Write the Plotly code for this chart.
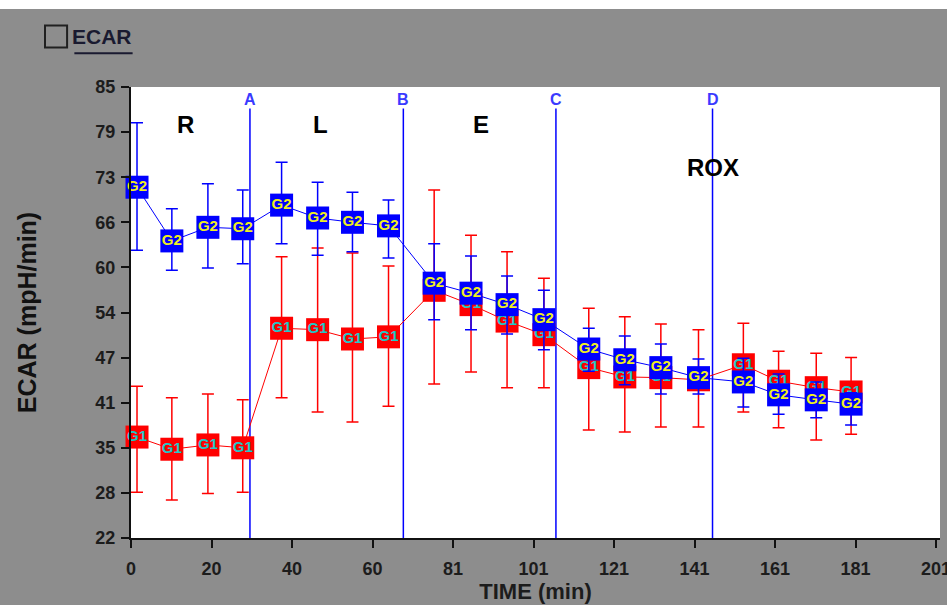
import plotly.graph_objects as go

# ---- data ----
time_min = [1.5, 10.2, 19.2, 27.9, 37.6, 46.6, 55.3, 64.3, 75.7, 84.9,
            93.9, 103.1, 114.3, 123.3, 132.3, 141.7, 152.9, 161.7, 171.1, 179.8]

g1_mean = [36.1, 34.4, 35.0, 34.6, 51.3, 51.1, 49.8, 50.1, 56.6, 54.6,
           52.3, 50.4, 45.8, 44.5, 44.4, 44.1, 46.2, 43.9, 43.0, 42.4]
g1_upper = [43.2, 41.6, 42.1, 41.3, 61.3, 62.5, 61.8, 60.0, 70.6, 64.3,
            62.0, 58.3, 54.1, 52.9, 51.9, 51.1, 52.0, 48.1, 47.8, 47.2]
g1_lower = [28.4, 27.3, 28.2, 28.4, 41.6, 39.6, 38.2, 40.4, 43.5, 45.2,
            43.0, 43.0, 37.1, 36.8, 37.5, 37.5, 39.6, 37.4, 35.7, 36.5]

g2_mean = [71.0, 63.5, 65.4, 65.2, 68.5, 66.7, 66.1, 65.6, 57.6, 56.2,
           54.6, 52.5, 48.4, 46.9, 45.8, 44.4, 43.8, 42.0, 41.3, 40.7]
g2_upper = [80.0, 68.0, 71.5, 70.6, 74.5, 71.7, 70.3, 69.2, 63.1, 61.4,
            58.6, 56.6, 51.3, 50.2, 49.1, 47.0, 47.1, 44.9, 43.8, 42.3]
g2_lower = [62.2, 59.4, 59.7, 60.3, 63.1, 61.5, 62.0, 61.1, 52.5, 51.1,
            50.5, 48.3, 45.3, 43.4, 42.1, 42.1, 40.3, 39.3, 38.8, 37.8]

injection_times = [29.7, 68.0, 106.1, 145.2]
injection_labels = ["A", "B", "C", "D"]

phase_labels = ["R", "L", "E", "ROX"]
phase_x = [13.7, 47.4, 87.4, 145.3]
phase_y = [79.8, 79.8, 79.8, 73.8]

x_tickvals = [0, 20.1, 40.2, 60.3, 80.4, 100.5, 120.6, 140.7, 160.8, 180.9, 201]
x_ticktext = ["0", "20", "40", "60", "81", "101", "121", "141", "161", "181", "201"]
y_tickvals = [22, 28.3, 34.6, 40.9, 47.2, 53.5, 59.8, 66.1, 72.4, 78.7, 85]
y_ticktext = ["22", "28", "35", "41", "47", "54", "60", "66", "73", "79", "85"]

GRAY = "#8d8d8d"
TICKFONT = dict(family="Liberation Sans, Arial", size=18, color="#1c1c1c")

fig = go.Figure()


def add_group(name, mean, upper, lower, color, textcolor):
    fig.add_trace(go.Scatter(
        x=time_min, y=mean, name=name,
        mode="lines+markers+text",
        text=["<b>%s</b>" % name] * len(mean), textposition="middle center",
        textfont=dict(family="Liberation Sans, Arial", size=15, color=textcolor),
        line=dict(color=color, width=1),
        marker=dict(symbol="square", size=23, color=color, line=dict(width=0)),
        error_y=dict(type="data", symmetric=False,
                     array=[u - m for u, m in zip(upper, mean)],
                     arrayminus=[m - l for m, l in zip(mean, lower)],
                     color=color, thickness=1.5, width=6),
        cliponaxis=False, showlegend=False,
    ))


add_group("G1", g1_mean, g1_upper, g1_lower, "#ff0000", "#22c8c8")
add_group("G2", g2_mean, g2_upper, g2_lower, "#0000ff", "#f0f020")

# injection lines + labels
for t, lab in zip(injection_times, injection_labels):
    fig.add_shape(type="line", x0=t, x1=t, y0=22, y1=82.0, xref="x", yref="y",
                  line=dict(color="#0000ff", width=1.5), layer="below")
    fig.add_annotation(x=t, y=83.3, text="<b>%s</b>" % lab, showarrow=False, xref="x", yref="y",
                       font=dict(family="Liberation Sans, Arial", size=16, color="#3a3aff"))

for lab, px_, py_ in zip(phase_labels, phase_x, phase_y):
    fig.add_annotation(x=px_, y=py_, text="<b>%s</b>" % lab, showarrow=False,
                       xref="x", yref="y",
                       font=dict(family="Liberation Sans, Arial", size=24, color="#000000"))

# white strip at top of the image
fig.add_shape(type="rect", xref="paper", yref="paper", x0=-0.2, x1=1.1,
              y0=1.173, y1=1.25, fillcolor="white", line=dict(width=0), layer="below")
# checkbox + ECAR legend title
fig.add_shape(type="rect", xref="paper", yref="paper",
              x0=-0.1063, x1=-0.0790, y0=1.0875, y1=1.1365,
              fillcolor="rgba(0,0,0,0)", line=dict(color="#202020", width=2))
fig.add_annotation(xref="paper", yref="paper", x=-0.0760, y=1.112, xanchor="left",
                   yanchor="middle", text="<b>ECAR</b>", showarrow=False,
                   font=dict(family="Liberation Sans, Arial", size=21, color="#1a1a30"))
fig.add_shape(type="line", xref="paper", yref="paper",
              x0=-0.0700, x1=0.0020, y0=1.075, y1=1.075,
              line=dict(color="#1a1a30", width=2))

fig.update_layout(
    width=947, height=605,
    margin=dict(l=131, r=7, t=87, b=67, autoexpand=False),
    paper_bgcolor=GRAY, plot_bgcolor="white",
    xaxis=dict(range=[0, 202], tickvals=x_tickvals,
               ticktext=["<b>%s</b>" % t for t in x_ticktext],
               showgrid=False, zeroline=False, showline=True, linecolor="#111111",
               linewidth=2, ticks="outside", ticklen=8, tickwidth=2, tickcolor="#111111",
               tickfont=TICKFONT, ticklabeloverflow="allow", automargin=False,
               ticklabelstandoff=5,
               title=dict(text="<b>TIME (min)</b>", standoff=3,
                          font=dict(family="Liberation Sans, Arial", size=22, color="#1c1c1c"))),
    yaxis=dict(range=[22, 85], tickvals=y_tickvals,
               ticktext=["<b>%s</b>" % t for t in y_ticktext],
               showgrid=False, zeroline=False, showline=True, linecolor="#111111",
               linewidth=2, ticks="outside", ticklen=8, tickwidth=2, tickcolor="#111111",
               tickfont=TICKFONT, automargin=False, ticklabelstandoff=2,
               title=dict(text="<b>ECAR (mpH/min)</b>", standoff=52,
                          font=dict(family="Liberation Sans, Arial", size=25, color="#111111"))),
)

fig.write_html("out.html")
